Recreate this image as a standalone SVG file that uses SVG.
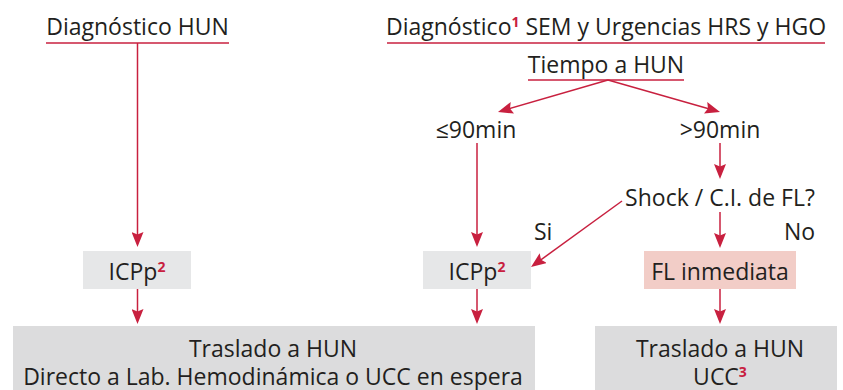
<svg xmlns="http://www.w3.org/2000/svg" width="843" height="390" viewBox="0 0 843 390">
<style>
text{font-family:"Open Sans","Noto Sans","Liberation Sans",sans-serif;font-size:23px;fill:#231f20}
.c{text-anchor:middle}
.sup{font-size:14px;font-weight:bold;fill:#c8203f}
.ln{stroke:#c8203f;stroke-width:1.5;fill:none}
.gray{fill:#e6e7e8}
.gray2{fill:#dcdcdd}
.pink{fill:#f2cdc7}
</style>
<defs>
<marker id="ah" markerUnits="userSpaceOnUse" markerWidth="15" markerHeight="12" refX="5" refY="6" orient="auto">
<path d="M0,0 L15,6 L0,12 L2.5,6 z" fill="#c8203f"/>
</marker>
</defs>
<rect width="843" height="390" fill="#fff"/>
<g id="diag-hun">
<text class="c" x="137.5" y="35">Diagnóstico HUN</text>
<line class="ln" x1="46" y1="43" x2="229" y2="43"/>
</g>
<g id="diag-sem">
<text class="c" x="606" y="35">Diagnóstico<tspan class="sup" dy="-8">1</tspan><tspan dy="8"> SEM y Urgencias HRS y HGO</tspan></text>
<line class="ln" x1="387" y1="43" x2="825" y2="43"/>
</g>
<g id="tiempo">
<text class="c" x="606" y="73">Tiempo a HUN</text>
<line class="ln" x1="528" y1="80" x2="684" y2="80"/>
</g>
<g id="le90"><text class="c" x="476" y="138">≤90min</text></g>
<g id="gt90"><text class="c" x="720" y="138">&gt;90min</text></g>
<g id="shock"><text class="c" x="720" y="206">Shock / C.I. de FL?</text></g>
<g id="lbl-si"><text x="534" y="240">Si</text></g>
<g id="lbl-no"><text x="784" y="240">No</text></g>
<g id="icpp1">
<rect class="gray" x="83" y="251" width="108" height="38"/>
<text class="c" x="137" y="280">ICPp<tspan class="sup" dy="-8">2</tspan></text>
</g>
<g id="icpp2">
<rect class="gray" x="423" y="251" width="108" height="38"/>
<text class="c" x="477" y="280">ICPp<tspan class="sup" dy="-8">2</tspan></text>
</g>
<g id="fl">
<rect class="pink" x="644" y="251" width="152" height="38"/>
<text class="c" x="720" y="280">FL inmediata</text>
</g>
<g id="traslado1">
<rect class="gray2" x="13" y="326" width="522" height="64"/>
<text class="c" x="273" y="357">Traslado a HUN</text>
<text class="c" x="273" y="385">Directo a Lab. Hemodinámica o UCC en espera</text>
</g>
<g id="traslado2">
<rect class="gray2" x="595" y="326" width="242" height="64"/>
<text class="c" x="720" y="357">Traslado a HUN</text>
<text class="c" x="720" y="385">UCC<tspan class="sup" dy="-8">3</tspan></text>
</g>
<g id="connectors">
<line class="ln" x1="137.5" y1="43" x2="137.5" y2="237" marker-end="url(#ah)"/>
<line class="ln" x1="137.5" y1="289" x2="137.5" y2="314" marker-end="url(#ah)"/>
<line class="ln" x1="477" y1="143" x2="477" y2="237" marker-end="url(#ah)"/>
<line class="ln" x1="477" y1="289" x2="477" y2="314" marker-end="url(#ah)"/>
<line class="ln" x1="608" y1="80" x2="507.6" y2="109.2" marker-end="url(#ah)"/>
<line class="ln" x1="608" y1="80" x2="710.4" y2="109.2" marker-end="url(#ah)"/>
<line class="ln" x1="720" y1="143" x2="720" y2="169" marker-end="url(#ah)"/>
<line class="ln" x1="720" y1="212" x2="720" y2="238" marker-end="url(#ah)"/>
<line class="ln" x1="622" y1="201" x2="539.1" y2="261.1" marker-end="url(#ah)"/>
<line class="ln" x1="720" y1="289" x2="720" y2="314" marker-end="url(#ah)"/>
</g>
</svg>
